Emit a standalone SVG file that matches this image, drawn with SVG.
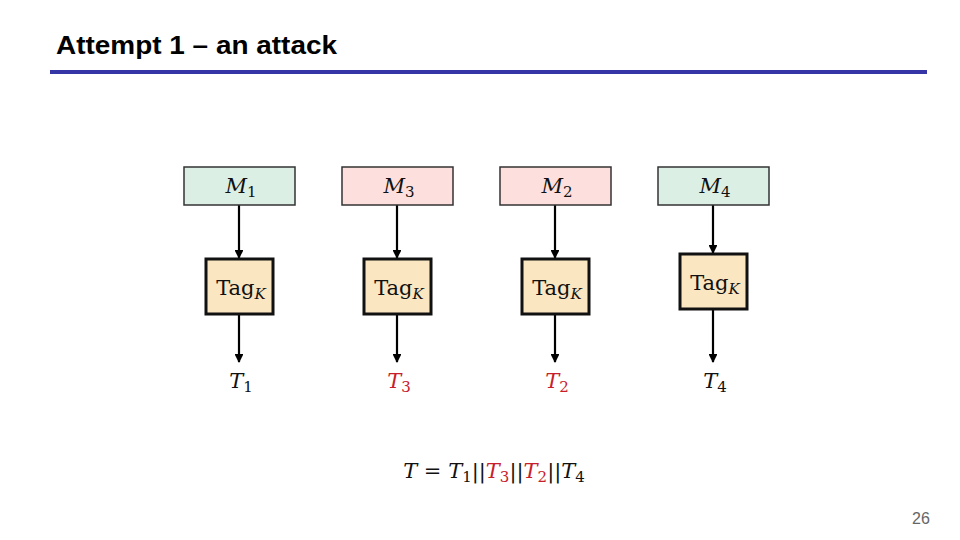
<svg xmlns="http://www.w3.org/2000/svg" width="960" height="540" viewBox="0 0 960 540">
<style>
.title{font-family:"Liberation Sans",Arial,sans-serif;font-weight:bold;font-size:26px;fill:#000}
.pg{font-family:"Liberation Sans",Arial,sans-serif;font-size:16px;fill:#666}
.m{font-family:"DejaVu Serif","Liberation Serif",serif;font-size:21px;fill:#111}
.v{font-style:italic}
.sub{font-size:15px}
.red{fill:#c8202a}
.g{fill:#dcefe5;stroke:#333;stroke-width:1.5}
.p{fill:#fde0dd;stroke:#333;stroke-width:1.5}
.t{fill:#fbe6c2;stroke:#111;stroke-width:3}
.c{stroke:#000;stroke-width:2.2;fill:none;marker-end:url(#ah)}
</style>
<defs>
<marker id="ah" viewBox="0 0 10 10" refX="9" refY="5" markerWidth="4" markerHeight="4" orient="auto" markerUnits="strokeWidth">
<path d="M0,0 L10,5 L0,10 z" fill="#000"/>
</marker>
</defs>
<rect width="960" height="540" fill="#fff"/>
<text class="title" x="56" y="54" textLength="281" lengthAdjust="spacingAndGlyphs">Attempt 1 – an attack</text>
<rect x="50" y="70" width="877" height="4" fill="#3535a5"/>
<text class="pg" x="912" y="524">26</text>

<g id="connectors">
<line class="c" x1="239" y1="205" x2="239" y2="258"/>
<line class="c" x1="397" y1="205" x2="397" y2="258"/>
<line class="c" x1="555" y1="205" x2="555" y2="258"/>
<line class="c" x1="713" y1="205" x2="713" y2="253"/>
<line class="c" x1="239" y1="314" x2="239" y2="362"/>
<line class="c" x1="397" y1="314" x2="397" y2="362"/>
<line class="c" x1="555" y1="314" x2="555" y2="362"/>
<line class="c" x1="713" y1="309" x2="713" y2="362"/>
</g>

<g id="m1"><rect class="g" x="184" y="167" width="111" height="38"/><text class="m" x="241" y="193" text-anchor="middle"><tspan class="v">M</tspan><tspan class="sub" dy="4">1</tspan></text></g>
<g id="m3"><rect class="p" x="342" y="167" width="111" height="38"/><text class="m" x="399" y="193" text-anchor="middle"><tspan class="v">M</tspan><tspan class="sub" dy="4">3</tspan></text></g>
<g id="m2"><rect class="p" x="500" y="167" width="111" height="38"/><text class="m" x="557" y="193" text-anchor="middle"><tspan class="v">M</tspan><tspan class="sub" dy="4">2</tspan></text></g>
<g id="m4"><rect class="g" x="658" y="167" width="111" height="38"/><text class="m" x="715" y="193" text-anchor="middle"><tspan class="v">M</tspan><tspan class="sub" dy="4">4</tspan></text></g>

<g id="tag1"><rect class="t" x="206" y="259" width="67" height="55"/><text class="m" x="241" y="295" text-anchor="middle">Tag<tspan class="sub v" dy="4">K</tspan></text></g>
<g id="tag3"><rect class="t" x="364" y="259" width="67" height="55"/><text class="m" x="399" y="295" text-anchor="middle">Tag<tspan class="sub v" dy="4">K</tspan></text></g>
<g id="tag2"><rect class="t" x="522" y="259" width="67" height="55"/><text class="m" x="557" y="295" text-anchor="middle">Tag<tspan class="sub v" dy="4">K</tspan></text></g>
<g id="tag4"><rect class="t" x="680" y="254" width="67" height="55"/><text class="m" x="715" y="290" text-anchor="middle">Tag<tspan class="sub v" dy="4">K</tspan></text></g>

<g id="t1"><text class="m" x="241" y="388" text-anchor="middle"><tspan class="v">T</tspan><tspan class="sub" dy="4">1</tspan></text></g>
<g id="t3"><text class="m red" x="399" y="388" text-anchor="middle"><tspan class="v">T</tspan><tspan class="sub" dy="4">3</tspan></text></g>
<g id="t2"><text class="m red" x="557" y="388" text-anchor="middle"><tspan class="v">T</tspan><tspan class="sub" dy="4">2</tspan></text></g>
<g id="t4"><text class="m" x="715" y="388" text-anchor="middle"><tspan class="v">T</tspan><tspan class="sub" dy="4">4</tspan></text></g>

<g id="eq"><text class="m" x="494" y="478" text-anchor="middle"><tspan class="v">T</tspan> = <tspan class="v">T</tspan><tspan class="sub" dy="4">1</tspan><tspan dy="-4">||</tspan><tspan class="v red">T</tspan><tspan class="sub red" dy="4">3</tspan><tspan dy="-4">||</tspan><tspan class="v red">T</tspan><tspan class="sub red" dy="4">2</tspan><tspan dy="-4">||</tspan><tspan class="v">T</tspan><tspan class="sub" dy="4">4</tspan></text></g>
</svg>
